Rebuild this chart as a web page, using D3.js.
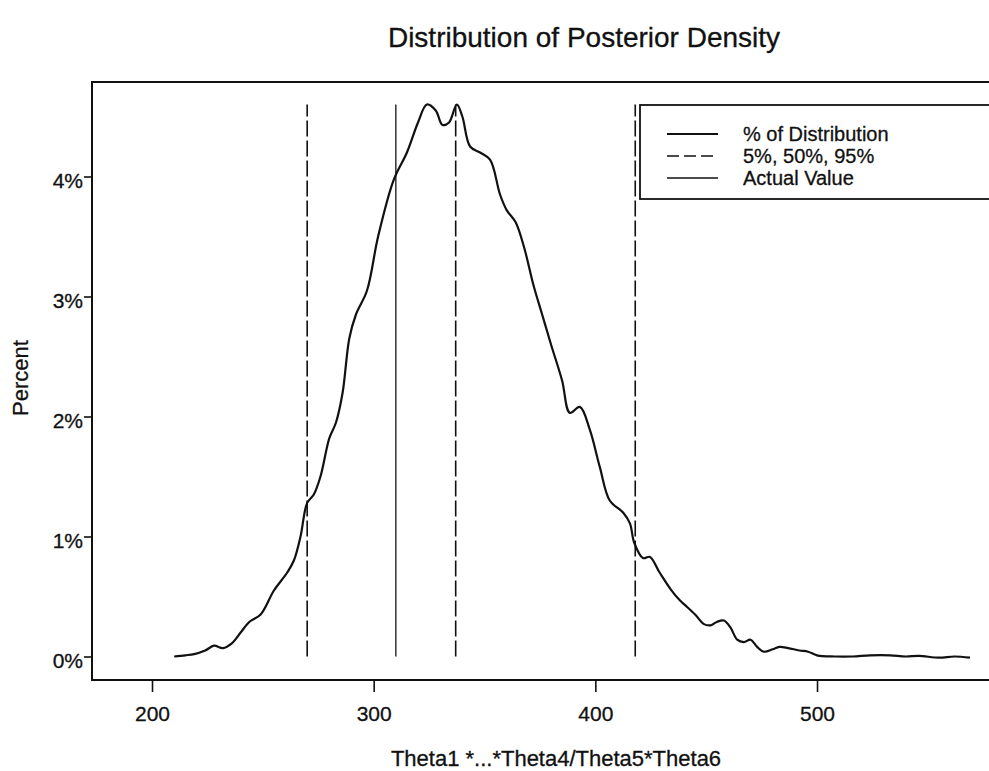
<!DOCTYPE html>
<html>
<head>
<meta charset="utf-8">
<script src="https://cdn.jsdelivr.net/npm/d3@7"></script>
<style>
  body { margin: 0; background: #fff; }
  text { font-family: "Liberation Sans", Arial, sans-serif; fill: #111; stroke: #111; stroke-width: 0.3px; }
</style>
</head>
<body>
<div id="chart"></div>
<script>
// posterior density (x value, percent)
const thetaValues = [210, 215, 219, 224, 228, 232, 236, 240, 244, 249,
  255, 261, 264, 267, 270, 273, 276, 280, 283, 286,
  289, 292, 297, 302, 309, 315, 320, 324, 328, 331,
  334, 337.5, 340, 343.5, 348, 352.5, 357, 360, 364, 368,
  372, 376, 380, 385, 388.5, 393, 397.5, 402, 406.5, 412.5,
  415.6, 417.5, 421.5, 424.6, 429, 434, 438, 441, 445, 449,
  452, 455, 458, 461, 464, 467, 470, 473, 476, 480,
  483, 487, 492, 496, 500, 508, 516, 524, 533, 540,
  546, 555, 562, 569];
const percentValues = [0.0, 0.01, 0.02, 0.05, 0.09, 0.07, 0.11, 0.2, 0.29, 0.35,
  0.55, 0.7, 0.8, 1.0, 1.28, 1.35, 1.5, 1.82, 1.95, 2.2,
  2.65, 2.85, 3.05, 3.5, 3.97, 4.2, 4.45, 4.6, 4.55, 4.43,
  4.45, 4.6, 4.5, 4.25, 4.2, 4.14, 3.85, 3.72, 3.62, 3.4,
  3.1, 2.85, 2.6, 2.3, 2.03, 2.08, 1.89, 1.58, 1.3, 1.2,
  1.11, 0.95, 0.82, 0.83, 0.7, 0.56, 0.47, 0.42, 0.35, 0.27,
  0.26, 0.29, 0.3, 0.24, 0.14, 0.12, 0.14, 0.08, 0.04, 0.06,
  0.08, 0.07, 0.05, 0.04, 0.01, 0.0, 0.0, 0.01, 0.01, 0.0,
  0.005, -0.01, 0.0, -0.01];

const quantiles = [270, 337, 418];   // 5%, 50%, 95%
const actualValue = [310];
const xTicks = [200, 300, 400, 500];
const yTicks = [0, 1, 2, 3, 4];
const legendLabels = ["% of Distribution", "5%, 50%, 95%", "Actual Value"];

const width = 989, height = 771;
const plotL = 92, plotT = 82, plotR = 1000, plotB = 680;

const svg = d3.select("#chart").append("svg")
  .attr("width", width).attr("height", height);

const x = d3.scaleLinear().domain([172.93, 582.55]).range([plotL, plotR]);
const y = d3.scaleLinear().domain([-0.1958, 4.7875]).range([plotB, plotT]);

// title
svg.append("text")
  .attr("x", 584).attr("y", 47)
  .attr("text-anchor", "middle")
  .style("font-size", "28px")
  .text("Distribution of Posterior Density");

// frame
svg.append("rect")
  .attr("x", plotL).attr("y", plotT)
  .attr("width", plotR - plotL).attr("height", plotB - plotT)
  .attr("fill", "none").attr("stroke", "#111").attr("stroke-width", 2);

// axes
const xAxis = svg.append("g")
  .attr("transform", `translate(0,${plotB})`)
  .call(d3.axisBottom(x).tickValues(xTicks).tickSize(12).tickSizeOuter(0).tickPadding(14));
const yAxis = svg.append("g")
  .attr("transform", `translate(${plotL},0)`)
  .call(d3.axisLeft(y).tickValues(yTicks).tickSize(8).tickSizeOuter(0).tickPadding(1)
    .tickFormat(d => d + "%"));

[xAxis, yAxis].forEach(g => {
  g.select(".domain").remove();
  g.selectAll(".tick line").attr("stroke", "#111").attr("stroke-width", 1.6);
  g.selectAll(".tick text").style("font-size", "21px").attr("fill", "#111");
});
yAxis.selectAll(".tick text").attr("dy", "0.52em");

// axis titles
svg.append("text")
  .attr("x", 556).attr("y", 766)
  .attr("text-anchor", "middle")
  .style("font-size", "22px")
  .text("Theta1 *...*Theta4/Theta5*Theta6");

svg.append("text")
  .attr("transform", "translate(28,378) rotate(-90)")
  .attr("text-anchor", "middle")
  .style("font-size", "22px")
  .text("Percent");

// vertical reference lines
const topPct = d3.max(percentValues);

svg.selectAll(".quantile")
  .data(quantiles)
  .join("line")
  .attr("class", "quantile")
  .attr("x1", d => x(d)).attr("x2", d => x(d))
  .attr("y1", y(0)).attr("y2", y(topPct))
  .attr("stroke", "#111").attr("stroke-width", 1.6)
  .attr("stroke-dasharray", "16,4");

svg.selectAll(".actual")
  .data(actualValue)
  .join("line")
  .attr("class", "actual")
  .attr("x1", d => x(d)).attr("x2", d => x(d))
  .attr("y1", y(0)).attr("y2", y(topPct))
  .attr("stroke", "#111").attr("stroke-width", 1.3);

// density curve
const points = thetaValues.map((v, i) => [v, percentValues[i]]);
const line = d3.line()
  .x(d => x(d[0]))
  .y(d => y(d[1]))
  .curve(d3.curveCatmullRom.alpha(0.5));

svg.append("path")
  .datum(points)
  .attr("d", line)
  .attr("fill", "none")
  .attr("stroke", "#111")
  .attr("stroke-width", 2.2);

// legend
const legend = svg.append("g");
legend.append("rect")
  .attr("x", 640).attr("y", 105)
  .attr("width", 400).attr("height", 94)
  .attr("fill", "#fff").attr("stroke", "#111").attr("stroke-width", 1.8);

const dashes = [null, "12,5", null];
const widths = [1.8, 1.6, 1.4];

legendLabels.forEach((label, i) => {
  const ly = 134 + i * 22;
  legend.append("line")
    .attr("x1", 667).attr("x2", 718)
    .attr("y1", ly).attr("y2", ly)
    .attr("stroke", "#111").attr("stroke-width", widths[i])
    .attr("stroke-dasharray", dashes[i]);
  legend.append("text")
    .attr("x", 743).attr("y", ly + 7)
    .style("font-size", "20px")
    .text(label);
});
</script>
</body>
</html>
